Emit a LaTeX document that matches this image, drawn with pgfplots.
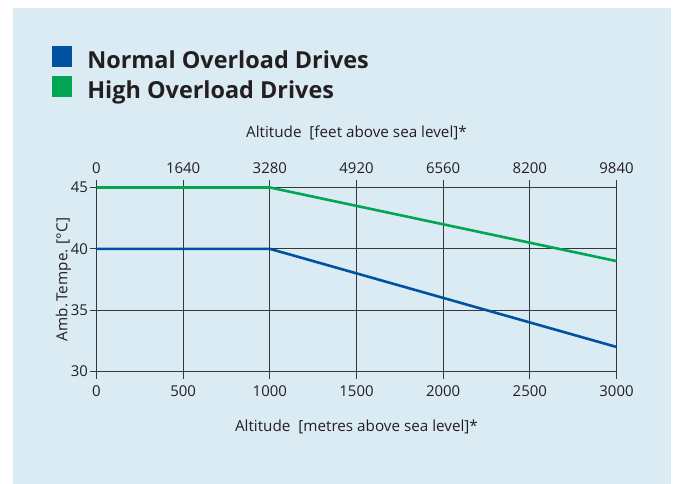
\documentclass[border=0pt]{standalone}
\usepackage{pgfplots}
\pgfplotsset{compat=1.18}
\usepackage{fontspec}
\setmainfont{Open Sans}
\definecolor{panel}{RGB}{219,235,244}
\definecolor{nblue}{RGB}{0,82,160}
\definecolor{hgreen}{RGB}{0,166,81}
\definecolor{txt}{RGB}{35,31,32}
\definecolor{gridc}{RGB}{55,55,58}
\begin{document}
\begin{tikzpicture}
\fill[white] (0,0) rectangle (676bp,484bp);
\fill[panel] (13bp,0) rectangle (671bp,476bp);
\begin{axis}[
  at={(96.5bp,112.5bp)}, anchor=south west,
  scale only axis, width=520bp, height=184bp,
  xmin=0, xmax=3000, ymin=30, ymax=45,
  axis x line*=top, hide y axis,
  xtick={0,500,...,3000},
  xticklabels={0,1640,3280,4920,6560,8200,9840},
  tick align=outside, major tick length=7bp,
  every tick/.style={gridc, line width=1.2bp},
  axis line style={gridc, line width=1.2bp},
  tick label style={font=\fontsize{15}{18}\selectfont, text=txt},
  xticklabel style={yshift=3bp},
  xlabel={Altitude\ \ [feet above sea level]*},
  label style={font=\fontsize{15.3}{18}\selectfont, text=txt},
  xlabel style={yshift=16bp},
]
\end{axis}
\begin{axis}[
  at={(96.5bp,112.5bp)}, anchor=south west,
  scale only axis, width=520bp, height=184bp,
  xmin=0, xmax=3000, ymin=30, ymax=45,
  clip=false,
  xtick={0,500,...,3000}, ytick={30,35,40,45},
  xtick pos=bottom, ytick pos=left,
  tick align=outside, major tick length=7bp,
  every tick/.style={gridc, line width=1.2bp},
  grid=major, grid style={gridc, line width=1.2bp},
  axis line style={gridc, line width=1.2bp},
  /pgf/number format/assume math mode=true,
  /pgf/number format/1000 sep={},
  tick label style={font=\fontsize{15}{18}\selectfont, text=txt},
  xticklabel style={yshift=-4bp},
  yticklabel style={xshift=2bp},
  xlabel={Altitude\ \ [metres above sea level]*},
  ylabel={Amb.\,Tempe. [°C]},
  label style={font=\fontsize{15.3}{18}\selectfont, text=txt},
  xlabel style={yshift=-16bp},
  ylabel style={yshift=-7bp},
  legend style={at={(axis description cs:-0.0865,1.77)}, anchor=north west,
    draw=none, fill=none, inner sep=0pt, column sep=15bp, row sep=3bp,
    font=\fontsize{23.5}{26}\selectfont\bfseries, text=txt,
    nodes={inner sep=0pt, text height=17bp, text depth=5bp}},
  legend cell align=left,
  legend image code/.code={\fill[#1] (0bp,-3bp) rectangle (18bp,15bp);},
]
\addplot[nblue, line width=2.6bp] coordinates {(0,40) (1000,40) (3000,32)};
\addlegendentry{Normal Overload Drives}
\addplot[hgreen, line width=2.6bp] coordinates {(0,45) (1000,45) (3000,39)};
\addlegendentry{High Overload Drives}
\end{axis}
\end{tikzpicture}
\end{document}
